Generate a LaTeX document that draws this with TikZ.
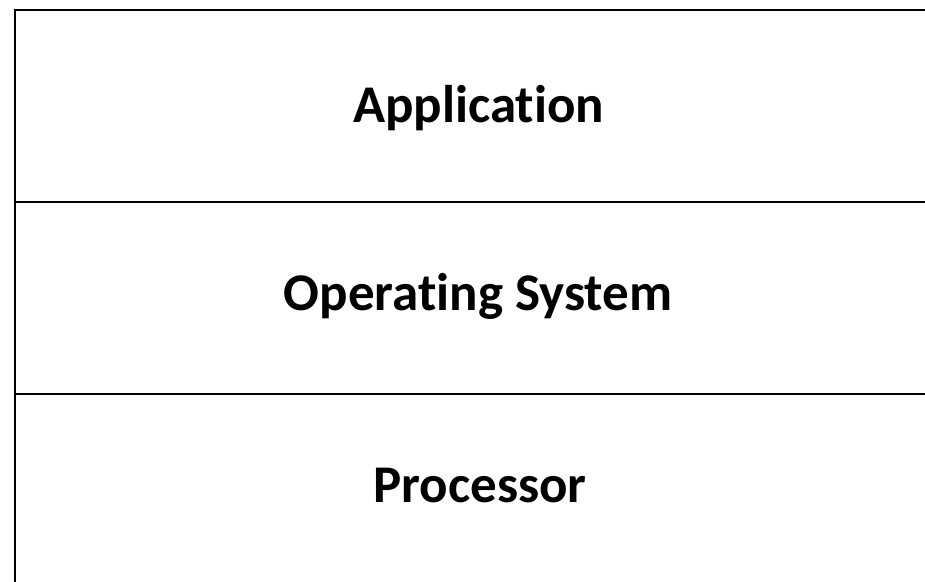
\documentclass[tikz,border=0pt]{standalone}
\usepackage{fontspec}
\setmainfont[Ligatures=NoCommon]{Carlito}
\begin{document}
\begin{tikzpicture}[x=1pt,y=-1pt,
  layer/.style={draw=black, line width=2pt, minimum width=925pt, minimum height=192pt,
    inner sep=0pt, outer sep=0pt},
  lbl/.style={anchor=base, inner sep=0pt, font=\fontsize{53}{57}\selectfont\bfseries}]
\useasboundingbox (0,0) rectangle (925,581);
\clip (0,0) rectangle (925,581);
\node[layer] (app)  at (477.5,106) {};
\node[layer] (os)   at (477.5,298) {};
\node[layer] (proc) at (477.5,490) {};
\node[lbl] (appt)  at (478.5,122) {Application};
\node[lbl] (ost)   at (478,310) {Operating System};
\node[lbl] (proct) at (480,502) {Processor};
\end{tikzpicture}
\end{document}
